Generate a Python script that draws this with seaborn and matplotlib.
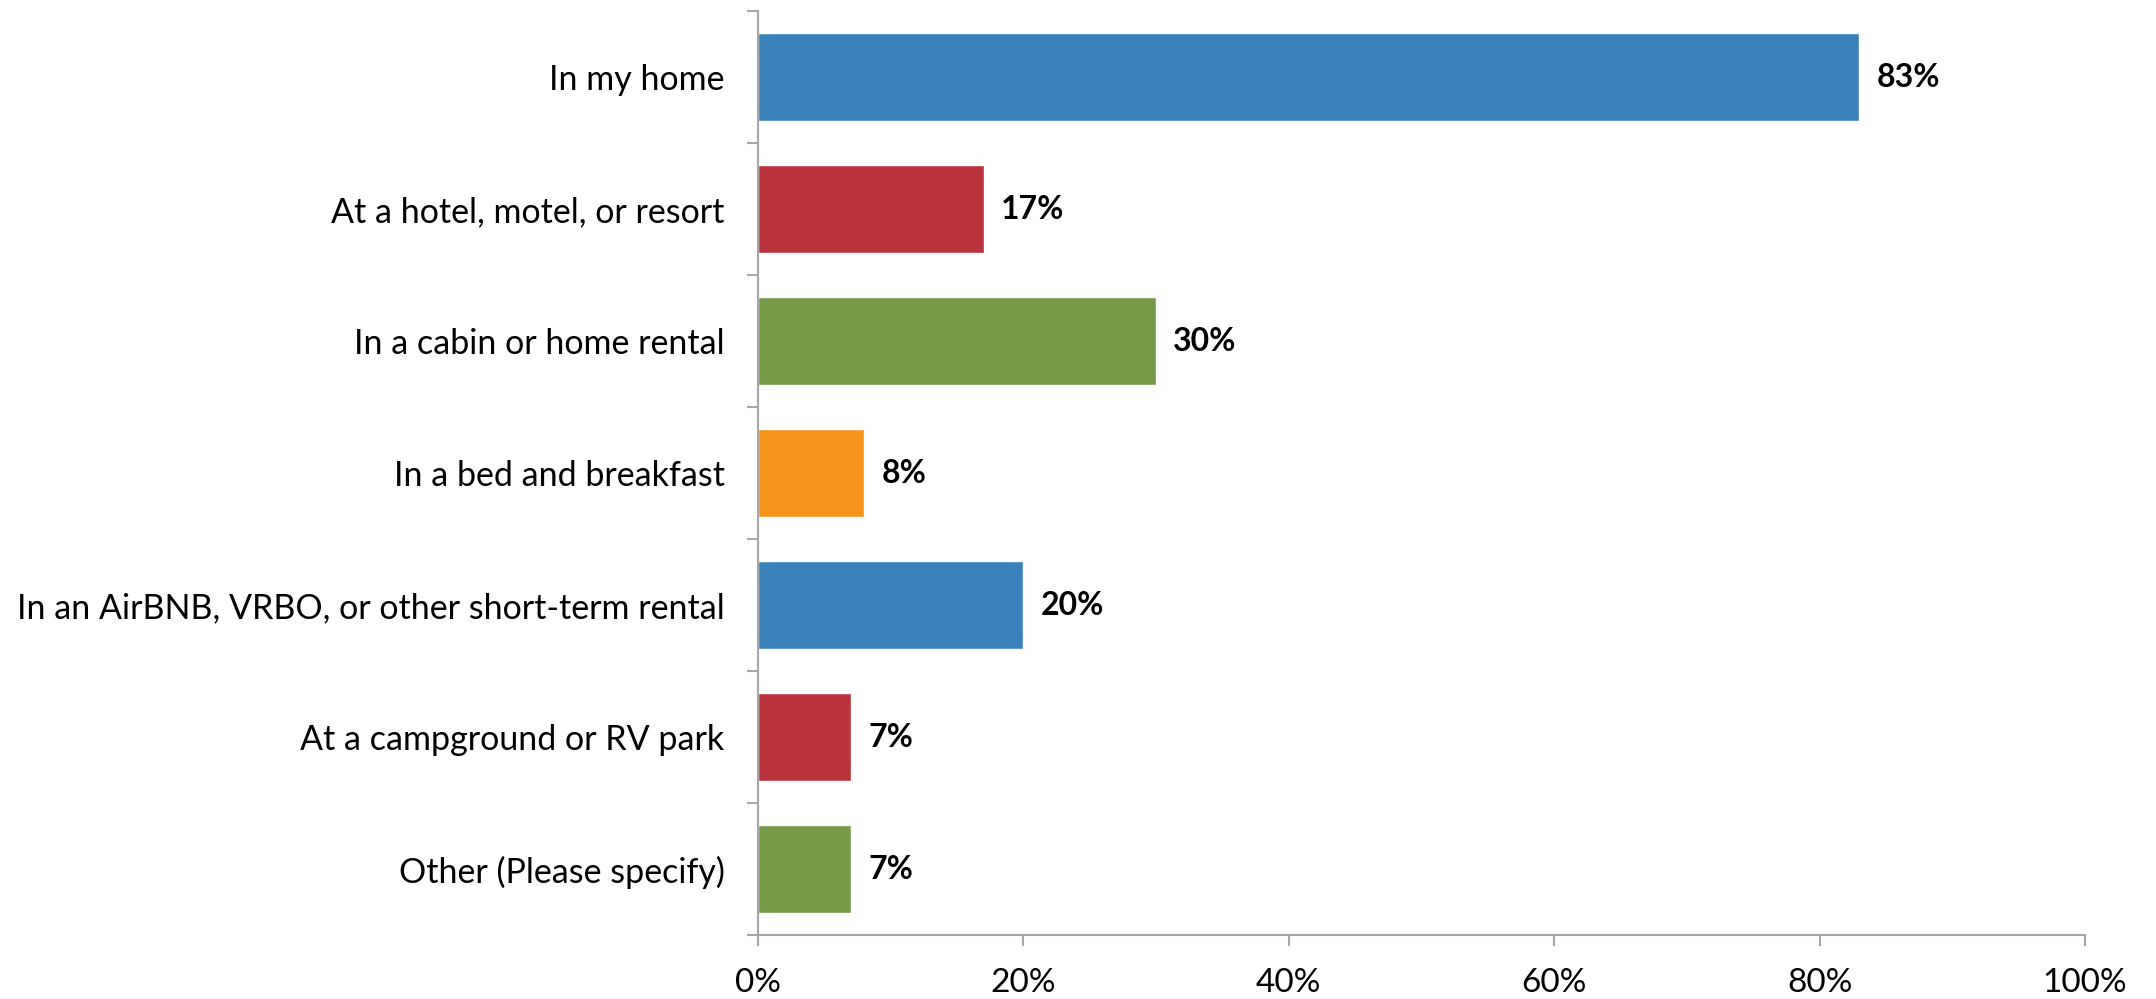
import matplotlib
matplotlib.use("Agg")
import matplotlib.pyplot as plt
import seaborn as sns
import pandas as pd
from matplotlib.ticker import FixedLocator, PercentFormatter

categories = [
    "In my home",
    "At a hotel, motel, or resort",
    "In a cabin or home rental",
    "In a bed and breakfast",
    "In an AirBNB, VRBO, or other short-term rental",
    "At a campground or RV park",
    "Other (Please specify)",
]
values = [83, 17, 30, 8, 20, 7, 7]
colors = ["#3A80B9", "#B9353B", "#779A49", "#F7931A", "#3A80B9", "#B9353B", "#779A49"]
x_ticks = [0, 20, 40, 60, 80, 100]

sns.set_theme(style="white")
plt.rcParams['font.family'] = ['Lato', 'DejaVu Sans']

df = pd.DataFrame({"cat": categories, "val": values})

fig = plt.figure(figsize=(21.56, 9.99), dpi=100)
ax = fig.add_axes([758/2156, 1-935/999, (2085-758)/2156, (935-11)/999])

sns.barplot(data=df, x="val", y="cat", hue="cat", palette=colors, width=0.67,
            legend=False, ax=ax, orient="h", saturation=1)

ax.set_xlim(0, 100)
ax.set_ylim(len(categories) - 0.5, -0.5)
ax.set_xlabel("")
ax.set_ylabel("")

gray = "#A6A6A6"
for s in ["top", "right"]:
    ax.spines[s].set_visible(False)
for s in ["left", "bottom"]:
    ax.spines[s].set_color(gray)
    ax.spines[s].set_linewidth(1.5)

ax.xaxis.set_major_locator(FixedLocator(x_ticks))
ax.xaxis.set_major_formatter(PercentFormatter(decimals=0))
ax.tick_params(axis="x", which="major", direction="out", length=8, width=1.5,
               color=gray, labelsize=24, pad=16, labelcolor="black", bottom=True)

ax.yaxis.set_minor_locator(FixedLocator([i - 0.5 for i in range(len(categories) + 1)]))
ax.tick_params(axis="y", which="minor", direction="out", length=8, width=1.5,
               color=gray, left=True)
ax.tick_params(axis="y", which="major", length=0, labelsize=24.5, pad=24,
               labelcolor="black")

for i, v in enumerate(values):
    ax.text(v + 1.3, i, f"{v}%", va="center", ha="left", fontsize=23,
            fontweight="bold", color="black")

fig.savefig("out.png", dpi=100)
